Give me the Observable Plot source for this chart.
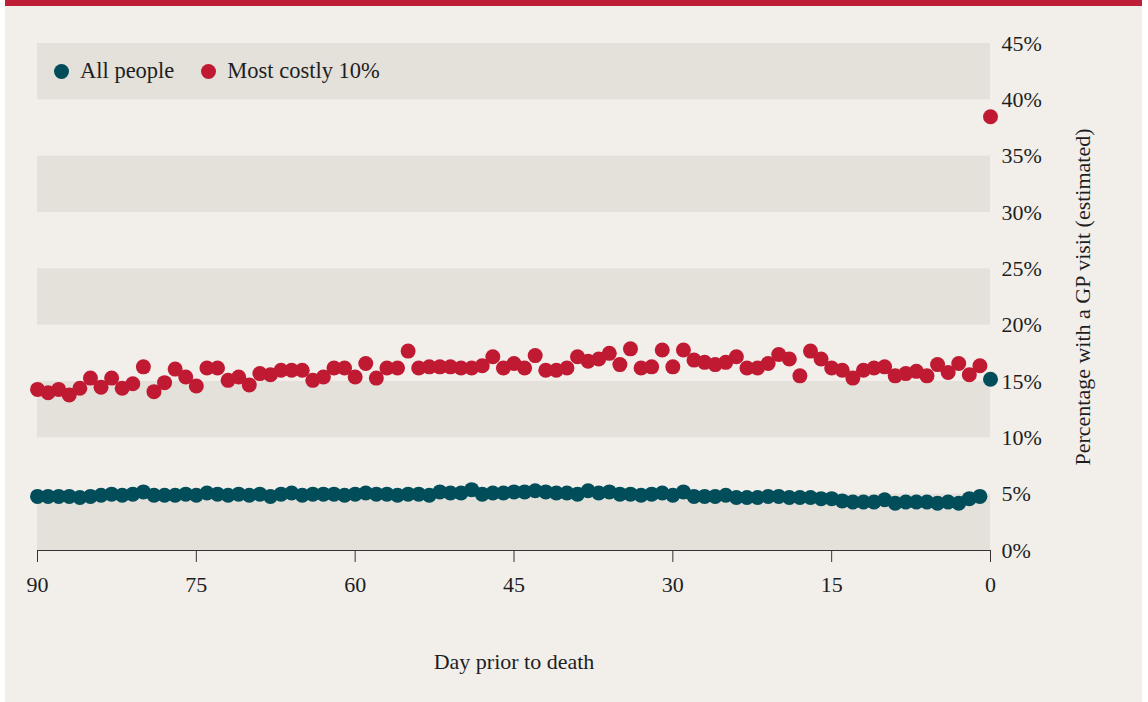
<!DOCTYPE html>
<html>
<head>
<meta charset="utf-8">
<script src="https://cdn.jsdelivr.net/npm/d3@7"></script>
<script src="https://cdn.jsdelivr.net/npm/@observablehq/plot@0.6"></script>
<style>
  html, body { margin: 0; padding: 0; background: #ffffff; }
  #panel { position: absolute; left: 5px; top: 0; width: 1137px; height: 702px; background: #f2efeb; border-top: 6px solid #be1e36; box-sizing: border-box; }
  #chart { position: absolute; left: 0; top: 0; }
  #legend { position: absolute; left: 54px; top: 58px; font-family: "Liberation Serif", serif; font-size: 22.5px; color: #1e1e1e; display: flex; align-items: center; }
  #legend .sw { display: inline-block; width: 15px; height: 15px; border-radius: 50%; margin-right: 11px; }
  #legend .item { display: flex; align-items: center; margin-right: 27px; }
</style>
</head>
<body>
<div id="panel"></div>
<div id="chart"></div>
<div id="legend"></div>
<script>
// Days prior to death, 90 down to 1, then day 0
const days = d3.range(90, -1, -1);

// All people (%), days 90..0
const allPeople = [
  4.8,4.8,4.8,4.8,4.7,4.8,4.9,5.0,4.9,5.0,
  5.2,4.9,4.9,4.9,5.0,4.9,5.1,5.0,4.9,5.0,
  4.9,5.0,4.8,5.0,5.1,4.9,5.0,5.0,5.0,4.9,
  5.0,5.1,5.0,5.0,4.9,5.0,5.0,4.9,5.2,5.1,
  5.1,5.4,5.0,5.1,5.1,5.2,5.2,5.3,5.2,5.1,
  5.1,5.0,5.3,5.1,5.2,5.0,5.0,4.9,5.0,5.1,
  4.9,5.2,4.8,4.8,4.8,4.9,4.7,4.7,4.7,4.8,
  4.8,4.7,4.7,4.7,4.6,4.6,4.4,4.3,4.3,4.3,
  4.5,4.2,4.3,4.3,4.3,4.2,4.3,4.2,4.6,4.8,
  15.2
];

// Most costly 10% (%), days 90..0
const mostCostly = [
  14.3,14.0,14.3,13.8,14.4,15.3,14.5,15.3,14.4,14.8,
  16.3,14.1,14.9,16.1,15.4,14.6,16.2,16.2,15.1,15.4,
  14.7,15.7,15.6,16.0,16.0,16.0,15.1,15.4,16.2,16.2,
  15.4,16.6,15.3,16.2,16.2,17.7,16.2,16.3,16.3,16.3,
  16.2,16.2,16.4,17.2,16.2,16.6,16.2,17.3,16.0,16.0,
  16.2,17.2,16.8,17.0,17.5,16.5,17.9,16.2,16.3,17.8,
  16.3,17.8,16.9,16.7,16.5,16.7,17.2,16.2,16.2,16.6,
  17.4,17.0,15.5,17.7,17.0,16.2,16.0,15.3,16.0,16.2,
  16.3,15.5,15.7,15.9,15.5,16.5,15.8,16.6,15.6,16.4,
  38.5
];

const seriesNames = ["All people", "Most costly 10%"];
const seriesColors = ["#024d5a", "#c01a33"];

const xTicks = [90, 75, 60, 45, 30, 15, 0];
const yTicks = [0, 5, 10, 15, 20, 25, 30, 35, 40, 45];
const bandStarts = [0, 10, 20, 30, 40];
const bandWidth = 5;

const bands = bandStarts.map(b => ({y1: b, y2: b + bandWidth}));
const dataAll = days.map((d, i) => ({day: d, pct: allPeople[i]}));
const dataCostly = days.map((d, i) => ({day: d, pct: mostCostly[i]}));

const font = "'Liberation Serif', 'Times New Roman', serif";

const chart = Plot.plot({
  width: 1148,
  height: 702,
  marginLeft: 37,
  marginRight: 158,
  marginTop: 43,
  marginBottom: 152,
  style: { background: "transparent", fontFamily: font, fontSize: "22px", color: "#1e1e1e" },
  x: { domain: [90, 0] },
  y: { domain: [0, 45] },
  marks: [
    Plot.rect(bands, { x1: 90, x2: 0, y1: "y1", y2: "y2", fill: "#e4e0da" }),
    Plot.ruleY([0], { x1: 90, x2: 0, stroke: "#333", strokeWidth: 1 }),
    Plot.axisX({
      ticks: xTicks, tickSize: 12, tickPadding: 14, stroke: "#333",
      fontSize: 22, label: "Day prior to death", labelAnchor: "center", labelArrow: "none", labelOffset: 118
    }),
    Plot.axisY({
      anchor: "right", ticks: yTicks, tickSize: 0, tickPadding: 11,
      tickFormat: d => d + "%", fontSize: 22,
      label: "Percentage with a GP visit (estimated)", labelAnchor: "center", labelArrow: "none", labelOffset: 99
    }),
    Plot.dot(dataCostly, { x: "day", y: "pct", r: 7.5, fill: seriesColors[1] }),
    Plot.dot(dataAll, { x: "day", y: "pct", r: 7.5, fill: seriesColors[0] })
  ]
});
document.getElementById("chart").appendChild(chart);

const legend = document.getElementById("legend");
seriesNames.forEach((name, i) => {
  const item = document.createElement("span");
  item.className = "item";
  const sw = document.createElement("span");
  sw.className = "sw";
  sw.style.background = seriesColors[i];
  item.appendChild(sw);
  item.appendChild(document.createTextNode(name));
  legend.appendChild(item);
});
</script>
</body>
</html>
